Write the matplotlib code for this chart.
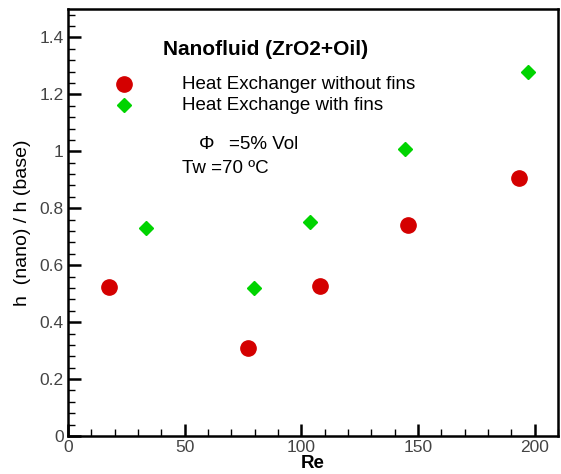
import matplotlib.pyplot as plt
from matplotlib.ticker import MultipleLocator

plt.rcParams['font.family'] = ['Liberation Sans', 'DejaVu Sans']

# h(nano)/h(base) against Re
re_nofins = [17.6, 77.3, 108.2, 145.6, 193.3]
h_nofins = [0.525, 0.308, 0.526, 0.741, 0.908]
re_fins = [33.5, 79.7, 103.9, 144.6, 197.0]
h_fins = [0.730, 0.519, 0.750, 1.007, 1.279]

fig = plt.figure(figsize=(5.61, 4.74), dpi=100)
ax = fig.add_axes([0.1212, 0.0802, 0.8735, 0.9008])

ax.plot(re_nofins, h_nofins, 'o', color='#d40000', ms=11, mec='#d40000')
ax.plot(re_fins, h_fins, 'D', color='#00d400', ms=7.5, mec='#00d400')

ax.set_xlim(0, 210)
ax.set_ylim(0, 1.5)
ax.xaxis.set_major_locator(MultipleLocator(50))
ax.xaxis.set_minor_locator(MultipleLocator(10))
ax.yaxis.set_major_locator(MultipleLocator(0.2))
ax.yaxis.set_minor_locator(MultipleLocator(0.04))
ax.set_yticks([0, 0.2, 0.4, 0.6, 0.8, 1.0, 1.2, 1.4])
ax.set_yticklabels(['0', '0.2', '0.4', '0.6', '0.8', '1', '1.2', '1.4'])
ax.tick_params(which='major', direction='in', length=9, width=1.8, labelsize=12.5,
               labelcolor='#444444', pad=3)
ax.tick_params(which='minor', direction='in', length=5, width=1.0)
for s in ax.spines.values():
    s.set_linewidth(1.8)

ax.set_xlabel('Re', fontsize=13.5, fontweight='bold', labelpad=0)
ax.set_ylabel('h  (nano) / h (base)', fontsize=14, labelpad=6)

# annotations inside the plot
ax.text(84.5, 1.357, 'Nanofluid (ZrO2+Oil)', fontsize=15, fontweight='bold',
        ha='center', va='center')
ax.plot([24], [1.236], 'o', color='#d40000', ms=11)
ax.plot([24], [1.162], 'D', color='#00d400', ms=7.5)
ax.text(49, 1.236, 'Heat Exchanger without fins', fontsize=13.5, va='center')
ax.text(49, 1.162, 'Heat Exchange with fins', fontsize=13.5, va='center')
ax.text(56, 1.025, 'Φ', fontsize=14, va='center')
ax.text(69, 1.025, '=5% Vol', fontsize=13.5, va='center')
ax.text(49, 0.94, 'Tw =70 ºC', fontsize=13.5, va='center')

fig.savefig('out.png', dpi=100)
